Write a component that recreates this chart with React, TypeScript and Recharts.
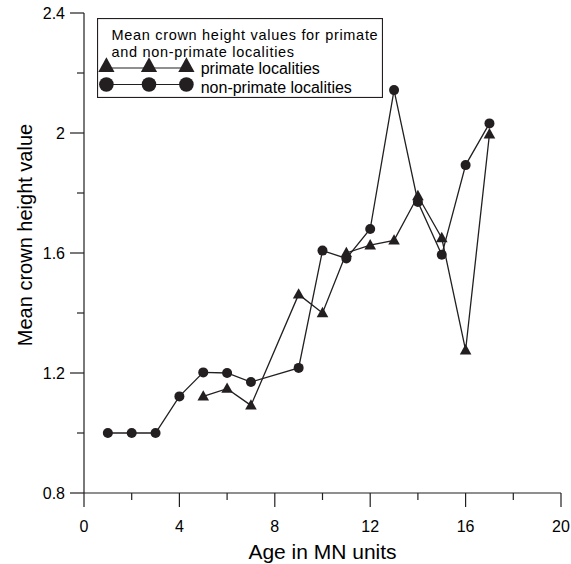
import { LineChart, Line, XAxis, YAxis, Legend } from 'recharts';

// values
const nonPrimateAges = [1, 2, 3, 4, 5, 6, 7, 9, 10, 11, 12, 13, 14, 15, 16, 17];
const nonPrimateValues = [1.0, 1.0, 1.0, 1.122, 1.202, 1.2, 1.17, 1.217, 1.608, 1.582, 1.68, 2.143, 1.77, 1.594, 1.893, 2.032];
const primateAges = [5, 6, 7, 9, 10, 11, 12, 13, 14, 15, 16, 17];
const primateValues = [1.122, 1.148, 1.092, 1.462, 1.4, 1.6, 1.626, 1.642, 1.79, 1.65, 1.276, 1.996];

const xTicks = [0, 2, 4, 6, 8, 10, 12, 14, 16, 18, 20];
const xLabelled = [0, 4, 8, 12, 16, 20];
const yTicks = [0.8, 1.0, 1.2, 1.4, 1.6, 1.8, 2.0, 2.2, 2.4];
const yLabelled = [0.8, 1.2, 1.6, 2.0, 2.4];

const INK = '#231f20';
const FONT = '"Liberation Sans", Arial, sans-serif';

const nonPrimate = nonPrimateAges.map((x, i) => ({ x, y: nonPrimateValues[i] }));
const primate = primateAges.map((x, i) => ({ x, y: primateValues[i] }));

const isLabelled = (list: number[], v: number) => list.some((l) => Math.abs(l - v) < 1e-6);

const XTick = (props: any) => {
  const { x, y, payload } = props;
  const major = isLabelled(xLabelled, payload.value);
  return (
    <g>
      <line x1={x} x2={x} y1={y} y2={y + (major ? 14 : 7)} stroke={INK} strokeWidth={1.2} />
      {major && (
        <text x={x} y={y + 39} textAnchor="middle" fontSize={16} fill="#000" fontFamily={FONT}>
          {payload.value}
        </text>
      )}
    </g>
  );
};

const YTick = (props: any) => {
  const { x, y, payload } = props;
  const major = isLabelled(yLabelled, payload.value);
  return (
    <g>
      <line x1={x - (major ? 14 : 7)} x2={x} y1={y} y2={y} stroke={INK} strokeWidth={1.2} />
      {major && (
        <text x={x - 19} y={y} dy="0.36em" textAnchor="end" fontSize={16} fill="#000" fontFamily={FONT}>
          {String(Math.round(payload.value * 10) / 10)}
        </text>
      )}
    </g>
  );
};

const triangle = (cx: number, cy: number, s: number) =>
  `M${cx},${cy - s * 0.62} L${cx - s * 0.58},${cy + s * 0.42} L${cx + s * 0.58},${cy + s * 0.42} Z`;

const TriangleDot = (props: any) => {
  const { cx, cy, index } = props;
  if (cx == null || cy == null) return <g key={`t-${index}`} />;
  return <path key={`t-${index}`} d={triangle(cx, cy, 10)} fill={INK} />;
};

const YTitle = () => (
  <text
    transform="translate(31.5, 235) rotate(-90)"
    textAnchor="middle"
    fontSize={20}
    fill="#000"
    fontFamily={FONT}
  >
    Mean crown height value
  </text>
);

const renderLegend = () => {
  const symX = [9.4, 52, 89.4];
  return (
    <svg width={286} height={80} style={{ display: 'block' }}>
      <rect x={0.5} y={0.5} width={285} height={79} fill="#fff" stroke={INK} strokeWidth={1.2} />
      <g fontFamily={FONT} fill="#000">
        <text x={14.4} y={22.3} fontSize={14.5} letterSpacing={0.7}>Mean crown height values for primate</text>
        <text x={14.4} y={38.6} fontSize={14.5} letterSpacing={0.7}>and non-primate localities</text>
        <text x={103.7} y={56.4} fontSize={16}>primate localities</text>
        <text x={103.7} y={74.8} fontSize={16}>non-primate localities</text>
      </g>
      <line x1={symX[0]} x2={symX[2]} y1={50} y2={50} stroke={INK} strokeWidth={1.2} />
      {symX.map((cx) => (
        <path key={`lt-${cx}`} d={triangle(cx, 48, 14)} fill={INK} />
      ))}
      <line x1={symX[0]} x2={symX[2]} y1={66.5} y2={66.5} stroke={INK} strokeWidth={1.2} />
      {symX.map((cx) => (
        <circle key={`lc-${cx}`} cx={cx} cy={66.5} r={7.3} fill={INK} />
      ))}
    </svg>
  );
};

export default function App() {
  return (
    <div style={{ position: 'absolute', left: 0, top: 0, background: '#fff' }}>
      <LineChart
        width={571}
        height={564}
        margin={{ top: 13, right: 10, bottom: 0, left: 0 }}
        style={{ fontFamily: FONT }}
      >
        <XAxis
          type="number"
          dataKey="x"
          domain={[0, 20]}
          ticks={xTicks}
          interval={0}
          height={71}
          tickSize={0}
          tickMargin={0}
          tickLine={false}
          axisLine={{ stroke: INK, strokeWidth: 1.2 }}
          tick={XTick}
          allowDuplicatedCategory={false}
          label={{ value: 'Age in MN units', position: 'insideBottom', offset: 5, fontSize: 21, fill: '#000' }}
        />
        <YAxis
          type="number"
          domain={[0.8, 2.4]}
          ticks={yTicks}
          interval={0}
          width={84}
          tickSize={0}
          tickMargin={0}
          tickLine={false}
          axisLine={{ stroke: INK, strokeWidth: 1.2 }}
          tick={YTick}
          label={<YTitle />}
        />
        <Legend
          layout="horizontal"
          verticalAlign="middle"
          align="center"
          wrapperStyle={{ left: 97, top: 18, width: 286, height: 80 }}
          content={renderLegend}
        />
        <Line
          data={primate}
          dataKey="y"
          name="primate localities"
          stroke={INK}
          strokeWidth={1.3}
          dot={TriangleDot}
          activeDot={false}
          isAnimationActive={false}
        />
        <Line
          data={nonPrimate}
          dataKey="y"
          name="non-primate localities"
          stroke={INK}
          strokeWidth={1.3}
          dot={{ r: 5, fill: INK, stroke: 'none' }}
          activeDot={false}
          isAnimationActive={false}
        />
      </LineChart>
    </div>
  );
}
